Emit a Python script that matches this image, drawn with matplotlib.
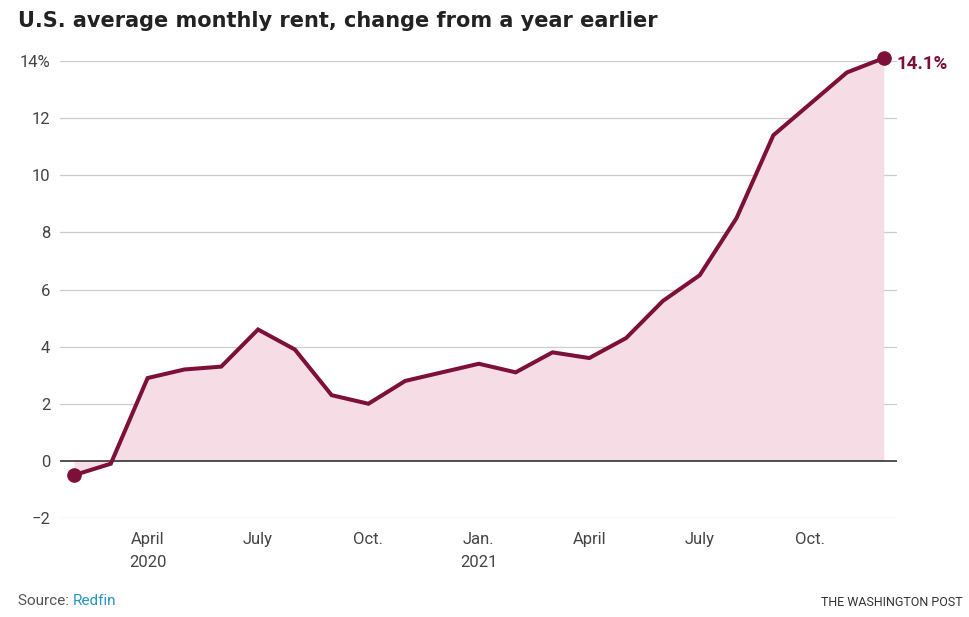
import matplotlib.pyplot as plt
import numpy as np

# monthly, Feb 2020 .. Dec 2021
months = ['Feb 2020', 'Mar 2020', 'Apr 2020', 'May 2020', 'Jun 2020', 'Jul 2020',
          'Aug 2020', 'Sep 2020', 'Oct 2020', 'Nov 2020', 'Dec 2020', 'Jan 2021',
          'Feb 2021', 'Mar 2021', 'Apr 2021', 'May 2021', 'Jun 2021', 'Jul 2021',
          'Aug 2021', 'Sep 2021', 'Oct 2021', 'Nov 2021', 'Dec 2021']
rent_change = [-0.5, -0.1, 2.9, 3.2, 3.3, 4.6, 3.9, 2.3, 2.0, 2.8, 3.1, 3.4,
               3.1, 3.8, 3.6, 4.3, 5.6, 6.5, 8.5, 11.4, 12.5, 13.6, 14.1]
tick_months = [2, 5, 8, 11, 14, 17, 20]
tick_labels = ['April\n2020', 'July', 'Oct.', 'Jan.\n2021', 'April', 'July', 'Oct.']
y_ticks = [-2, 0, 2, 4, 6, 8, 10, 12, 14]
y_labels = ['\u22122', '0', '2', '4', '6', '8', '10', '12', '14%']

line_color = '#7d1038'
fill_color = '#f6dde5'

plt.rcParams['font.family'] = ['Roboto', 'DejaVu Sans']

fig = plt.figure(figsize=(9.69, 6.17), dpi=100)
ax = fig.add_axes([60/969, 1 - 518/617, (897 - 60)/969, (518 - 61)/617])

x = np.arange(len(rent_change))
ax.fill_between(x, rent_change, 0, color=fill_color, lw=0, zorder=1)
ax.plot(x, rent_change, color=line_color, lw=2.9, zorder=4, solid_joinstyle='miter',
        clip_on=False)
ax.plot([x[0], x[-1]], [rent_change[0], rent_change[-1]], 'o', color=line_color,
        markersize=9.5, zorder=5, clip_on=False)
ax.annotate('{:.1f}%'.format(rent_change[-1]), (x[-1], rent_change[-1]),
            xytext=(9, -4), textcoords='offset points', ha='left', va='center',
            color=line_color, fontsize=13.5, fontweight='bold', annotation_clip=False)

ax.set_xlim(-0.38, 22.36)
ax.set_ylim(-2, 14)
for v in y_ticks:
    if v == 0:
        ax.axhline(v, color='#222222', lw=1.1, zorder=3)
    else:
        ax.axhline(v, color='#cccccc', lw=0.9, zorder=0)

ax.set_yticks(y_ticks)
ax.set_yticklabels(y_labels)
ax.set_xticks(tick_months)
ax.set_xticklabels(tick_labels, linespacing=1.65)
ax.tick_params(axis='both', length=0, labelsize=12, colors='#444444')
ax.tick_params(axis='y', pad=7)
ax.tick_params(axis='x', pad=10)
for s in ax.spines.values():
    s.set_visible(False)

fig.text(18/969, 1 - 21/617, 'U.S. average monthly rent, change from a year earlier',
         fontsize=15.0, fontweight='bold', color='#222222', va='center', ha='left',
         family=['DejaVu Sans'])
t1 = fig.text(18/969, 1 - 601/617, 'Source: ', fontsize=11, color='#555555',
              va='center', ha='left')
fig.canvas.draw()
bb = t1.get_window_extent()
fig.text(bb.x1 / fig.bbox.width, 1 - 601/617, 'Redfin', fontsize=11, color='#2a95c0',
         va='center', ha='left')
fig.text(963/969, 1 - 602/617, 'THE WASHINGTON POST', fontsize=9, color='#333333',
         va='center', ha='right')

fig.savefig('out.png', dpi=100, facecolor='white')
